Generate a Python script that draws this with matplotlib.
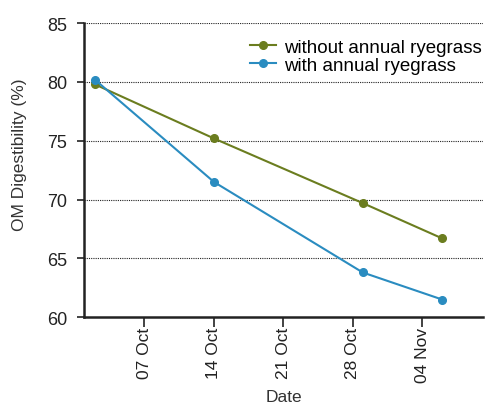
import matplotlib
matplotlib.use("Agg")
import matplotlib.pyplot as plt
import matplotlib.dates as mdates
from datetime import datetime

# Data
dates = [datetime(2023, 10, 2), datetime(2023, 10, 14),
         datetime(2023, 10, 29), datetime(2023, 11, 6)]
without_ryegrass = [79.8, 75.2, 69.7, 66.7]
with_ryegrass = [80.2, 71.5, 63.8, 61.5]
tick_dates = [datetime(2023, 10, 7), datetime(2023, 10, 14), datetime(2023, 10, 21),
              datetime(2023, 10, 28), datetime(2023, 11, 4)]
y_ticks = [60, 65, 70, 75, 80, 85]

GREEN = '#6b7d1f'
BLUE = '#2a8cc0'

plt.rcParams['font.family'] = ['Liberation Sans', 'DejaVu Sans']

fig = plt.figure(figsize=(4.86, 4.10), dpi=100)
ax = fig.add_axes([0.173, 0.224, 0.821, 0.717])

ax.plot(dates, without_ryegrass, color=GREEN, marker='o', markersize=5.5,
        linewidth=1.5, label='without annual ryegrass', zorder=3)
ax.plot(dates, with_ryegrass, color=BLUE, marker='o', markersize=5.5,
        linewidth=1.5, label='with annual ryegrass', zorder=3)

ax.set_xlim(datetime(2023, 9, 30, 22), datetime(2023, 11, 10, 3))
ax.set_ylim(60, 85)
ax.set_yticks(y_ticks)
ax.set_xticks(tick_dates)
ax.xaxis.set_major_formatter(mdates.DateFormatter('%d %b'))
plt.setp(ax.get_xticklabels(), rotation=90)
ax.tick_params(axis='x', labelsize=12.5, color='#222222', length=7, width=1.2,
               pad=0, labelcolor='#222222')
ax.tick_params(axis='y', labelsize=13, color='#222222', length=5, width=1.2,
               pad=7, labelcolor='#222222')

for y in y_ticks[1:]:
    ax.axhline(y, color='#222222', linestyle=(0, (1, 1)), linewidth=0.8, zorder=1)

for s in ['top', 'right']:
    ax.spines[s].set_visible(False)
ax.spines['left'].set_linewidth(1.8)
ax.spines['bottom'].set_linewidth(1.8)
ax.spines['left'].set_color('#222222')
ax.spines['bottom'].set_color('#222222')

ax.set_xlabel('Date', fontsize=12.5, color='#333333')
ax.set_ylabel('OM Digestibility (%)', fontsize=12.5, color='#333333')
ax.yaxis.set_label_coords(-0.143, 0.555)
ax.xaxis.set_label_coords(0.5, -0.245)

ax.legend(loc='upper right', frameon=False, fontsize=13.5, handlelength=1.4,
          handletextpad=0.4, labelspacing=0.05, borderaxespad=0.1,
          bbox_to_anchor=(1.02, 0.98))

fig.savefig('out.png', dpi=100)
